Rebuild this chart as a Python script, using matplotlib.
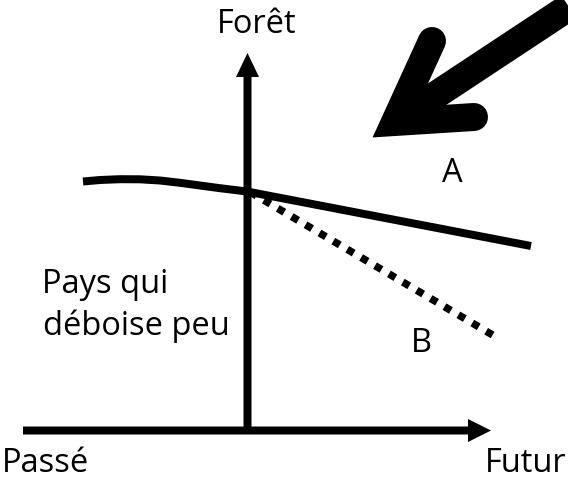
import matplotlib
matplotlib.use("Agg")
import matplotlib.pyplot as plt
from matplotlib.patches import FancyArrow

# ---- data (pixel-space schematic values) ----
past_x = [83, 100, 120, 140, 160, 180, 200, 220, 247]
past_y = [181.5, 180.0, 179.2, 179.3, 180.5, 182.8, 185.5, 188.2, 191.5]
scenA_x = [247, 531]
scenA_y = [191.5, 246]
scenB_x = [250, 496]
scenB_y = [192, 337]
big_arrow_head_x = [432, 395, 474]
big_arrow_head_y = [41, 122, 117]
big_arrow_shaft_x = [395, 610]
big_arrow_shaft_y = [122, -20]
labels = {"Forêt": (257, 33, "center"), "Passé": (2, 472, "left"),
          "Futur": (567, 472, "right"), "A": (452, 182, "center"),
          "B": (421, 352, "center")}
side_label_lines = ["Pays qui", "déboise peu"]
side_label_pos = [(42, 293), (43, 335)]

W, H = 568, 484
fig = plt.figure(figsize=(W / 100, H / 100), dpi=100)
ax = fig.add_axes([0, 0, 1, 1])
ax.set_xlim(0, W)
ax.set_ylim(H, 0)
ax.axis("off")

px = 0.72  # points per pixel at dpi 100
font = "Open Sans"
fs = 23.5

# axes arrows
ax.add_patch(FancyArrow(23, 430.5, 491 - 23, 0, width=8, head_width=23,
                        head_length=23, length_includes_head=True,
                        color="black", lw=0))
ax.add_patch(FancyArrow(247.5, 434, 0, 53 - 434, width=8, head_width=23,
                        head_length=24, length_includes_head=True,
                        color="black", lw=0))

# curves
ax.plot(past_x, past_y, color="black", lw=8 * px, solid_capstyle="butt",
        solid_joinstyle="round")
ax.plot(scenA_x, scenA_y, color="black", lw=8 * px, solid_capstyle="butt")
ax.plot(scenB_x, scenB_y, color="black", lw=7.5 * px, linestyle=(0, (1, 1.15)),
        dash_capstyle="butt")

# big arrow
ax.plot(big_arrow_shaft_x, big_arrow_shaft_y, color="black", lw=28 * px,
        solid_capstyle="butt")
ax.plot(big_arrow_head_x, big_arrow_head_y, color="black", lw=28 * px,
        solid_capstyle="round", solid_joinstyle="miter")

# texts
for txt, (x, y, ha) in labels.items():
    ax.text(x, y, txt, ha=ha, va="baseline", fontsize=fs, family=font)
for txt, (x, y) in zip(side_label_lines, side_label_pos):
    ax.text(x, y, txt, ha="left", va="baseline", fontsize=fs, family=font)

fig.savefig("out.png", dpi=100, facecolor="white")
